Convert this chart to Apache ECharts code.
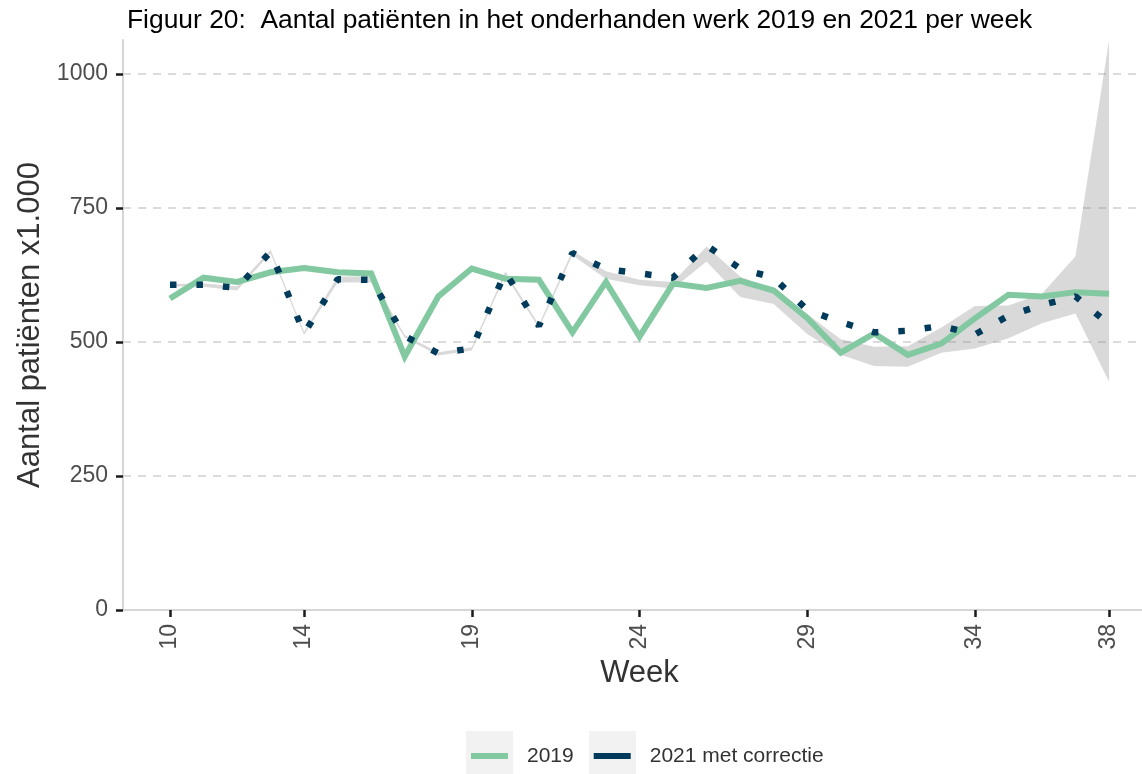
<!DOCTYPE html>
<html>
<head>
<meta charset="utf-8">
<script src="https://cdn.jsdelivr.net/npm/echarts@6/dist/echarts.min.js"></script>
<style>
  html, body { margin: 0; padding: 0; background: #fff; }
  #chart { width: 1142px; height: 774px; }
</style>
</head>
<body>
<div id="chart"></div>
<script>
var weeks = [10, 11, 12, 13, 14, 15, 16, 17, 18, 19, 20, 21, 22, 23, 24, 25, 26, 27, 28, 29, 30, 31, 32, 33, 34, 35, 36, 37, 38];
var values2019 = [581, 620, 612, 630, 638, 630, 628, 473, 585, 637, 618, 616, 518, 612, 510, 609, 601, 614, 596, 545, 480, 516, 476, 497, 544, 588, 585, 593, 590];
var values2021 = [607, 607, 601, 668, 516, 617, 616, 511, 479, 488, 630, 530, 666, 636, 628, 620, 680, 637, 620, 560, 537, 518, 521, 530, 514, 549, 569, 585, 533];
var bandLower = [604, 603, 596, 665, 513, 611, 611, 508, 475, 484, 624, 526, 662, 618, 606, 600, 650, 584, 571, 515, 476, 455, 454, 480, 488, 507, 535, 553, 426];
var bandUpper = [608, 609, 604, 672, 519, 622, 622, 513, 481, 490, 632, 532, 670, 632, 616, 612, 678, 622, 596, 552, 505, 491, 492, 527, 567, 568, 590, 660, 1063];
var xTicks = [10, 14, 19, 24, 29, 34, 38];
var yTicks = [0, 250, 500, 750, 1000];
var gridValues = [250, 500, 750, 1000];

function pairs(ys) {
    return weeks.map(function (w, i) { return [w, ys[i]]; });
}

var myChart = echarts.init(document.getElementById('chart'), null, { renderer: 'canvas' });
var font = '"Liberation Sans", Arial, sans-serif';

// grijze band als één polygoon via de assen van de grafiek
function renderBand(params, api) {
    if (params.dataIndex !== 0) return;
    var pts = [];
    for (var i = 0; i < weeks.length; i++) pts.push(api.coord([weeks[i], bandUpper[i]]));
    for (var j = weeks.length - 1; j >= 0; j--) pts.push(api.coord([weeks[j], bandLower[j]]));
    return {
        type: 'polygon',
        shape: { points: pts },
        style: { fill: 'rgba(128,128,128,0.3)', stroke: 'none' },
        silent: true
    };
}

var option = {
    backgroundColor: '#ffffff',
    animation: false,
    textStyle: { fontFamily: font },
    title: {
        text: 'Figuur 20:  Aantal patiënten in het onderhanden werk 2019 en 2021 per week',
        left: 122,
        top: 3,
        textStyle: { fontFamily: font, fontSize: 26.4, fontWeight: 'normal', color: '#000000' }
    },
    grid: {
        left: 123,
        top: 40,
        width: 1033,
        height: 570,
        outerBoundsMode: 'none'
    },
    legend: {
        left: 471,
        top: 744,
        padding: 0,
        itemWidth: 37,
        itemHeight: 6,
        itemGap: 20,
        icon: 'rect',
        data: ['2019', '2021 met correctie'],
        textStyle: { fontFamily: font, fontSize: 21, color: '#333333', padding: [0, 0, 0, 14], lineHeight: 24 }
    },
    graphic: [
        { type: 'rect', left: 466, top: 731, shape: { width: 47, height: 43 }, style: { fill: '#f2f2f2' }, z: -1 },
        { type: 'rect', left: 589, top: 731, shape: { width: 47, height: 43 }, style: { fill: '#f2f2f2' }, z: -1 }
    ],
    xAxis: {
        type: 'value',
        min: 8.6,
        max: 39.4,
        name: 'Week',
        nameLocation: 'middle',
        nameGap: 40,
        nameTextStyle: { fontFamily: font, fontSize: 31, color: '#333333' },
        axisLine: { show: true, lineStyle: { color: '#d6d6d6', width: 2 } },
        axisTick: { show: true, length: 7, lineStyle: { color: '#1a1a1a', width: 2.5 }, customValues: xTicks },
        axisLabel: { rotate: 90, margin: 14, fontSize: 23, color: '#4d4d4d', customValues: xTicks },
        splitLine: { show: false }
    },
    yAxis: {
        type: 'value',
        min: 0,
        max: 1063.4,
        name: 'Aantal patiënten x1.000',
        nameLocation: 'middle',
        nameGap: 69,
        nameTextStyle: { fontFamily: font, fontSize: 31, color: '#333333' },
        axisLine: { show: true, lineStyle: { color: '#d6d6d6', width: 2 } },
        axisTick: { show: true, length: 7, lineStyle: { color: '#1a1a1a', width: 2.5 }, customValues: yTicks },
        axisLabel: { margin: 15, fontSize: 23, color: '#4d4d4d', customValues: yTicks,
            formatter: function (v) { return String(v); } },
        splitLine: { show: false }
    },
    series: [
        {
            name: 'band',
            type: 'custom',
            renderItem: renderBand,
            data: pairs(bandUpper),
            silent: true,
            z: 2
        },
        {
            name: '2019',
            type: 'line',
            data: pairs(values2019),
            symbol: 'none',
            itemStyle: { color: '#82c8a0' },
            lineStyle: { color: '#82c8a0', width: 6, join: 'miter' },
            z: 3,
            markLine: {
                silent: true,
                symbol: 'none',
                label: { show: false },
                lineStyle: { color: '#cfcfcf', width: 1.5, type: [8, 7] },
                z: 1,
                data: gridValues.map(function (v) { return { yAxis: v }; })
            }
        },
        {
            name: '2021 met correctie',
            type: 'line',
            data: pairs(values2021),
            symbol: 'none',
            itemStyle: { color: '#003b5c' },
            lineStyle: { color: '#003b5c', width: 6.5, type: [6.5, 20], cap: 'butt' },
            z: 4
        }
    ]
};
myChart.setOption(option);
</script>
</body>
</html>
